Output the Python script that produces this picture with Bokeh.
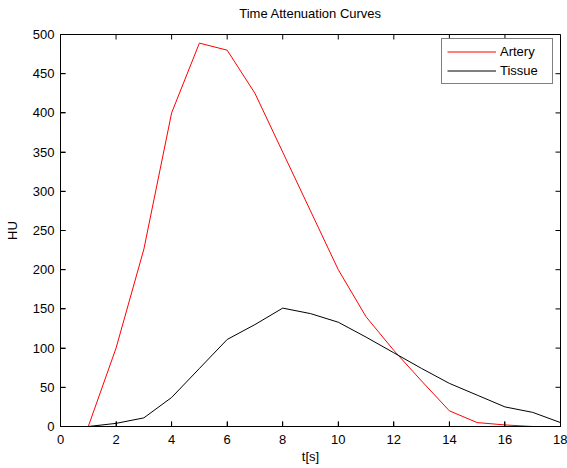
from bokeh.plotting import figure
from bokeh.models import LinearAxis, Range1d, FixedTicker, Legend, LegendItem
from bokeh.embed import file_html
from bokeh.resources import INLINE

t = list(range(1, 19))
artery = [0, 100, 226, 400, 489, 480, 425, 350, 275, 200, 140, 97, 58, 20, 5, 2, 0, 0]
tissue = [0, 4, 11, 37, 74, 111, 130, 151, 144, 133, 114, 94, 74, 55, 40, 25, 18, 5]
x_ticks = [0, 2, 4, 6, 8, 10, 12, 14, 16, 18]
y_ticks = [0, 50, 100, 150, 200, 250, 300, 350, 400, 450, 500]
title_text = "Time Attenuation Curves"

FONT = "Liberation Sans"
X0, X1, Y0, Y1 = 0, 18, 0, 500
FW, FH = 500, 392
TICK = 5

p = figure(width=567, height=468, output_backend="svg", toolbar_location=None,
           x_range=Range1d(X0, X1), y_range=Range1d(Y0, Y1),
           min_border_left=60, min_border_right=7, min_border_top=34, min_border_bottom=42)

p.grid.visible = False
p.outline_line_color = "black"
p.outline_line_width = 1
p.background_fill_color = "white"
p.border_fill_color = "white"

r1 = p.line(t, artery, line_color="#ff0000", line_width=1)
r2 = p.line(t, tissue, line_color="black", line_width=1)

# inward tick marks on all four sides
dx = TICK * (X1 - X0) / FW
dy = TICK * (Y1 - Y0) / FH
p.segment(x0=x_ticks, y0=[Y0] * len(x_ticks), x1=x_ticks, y1=[Y0 + dy] * len(x_ticks),
          line_color="black", line_width=1)
p.segment(x0=x_ticks, y0=[Y1] * len(x_ticks), x1=x_ticks, y1=[Y1 - dy] * len(x_ticks),
          line_color="black", line_width=1)
p.segment(x0=[X0] * len(y_ticks), y0=y_ticks, x1=[X0 + dx] * len(y_ticks), y1=y_ticks,
          line_color="black", line_width=1)
p.segment(x0=[X1] * len(y_ticks), y0=y_ticks, x1=[X1 - dx] * len(y_ticks), y1=y_ticks,
          line_color="black", line_width=1)

def style(ax):
    ax.major_tick_in = TICK
    ax.major_tick_out = 0
    ax.minor_tick_line_color = None
    ax.major_tick_line_color = "black"
    ax.axis_line_color = "black"
    ax.major_label_text_font = FONT
    ax.major_label_text_color = "black"
    ax.major_label_text_font_size = "13px"
    ax.axis_label_text_font = FONT
    ax.axis_label_text_font_size = "13px"
    ax.axis_label_text_font_style = "normal"
    ax.axis_label_text_color = "black"

p.xaxis.ticker = FixedTicker(ticks=x_ticks)
p.yaxis.ticker = FixedTicker(ticks=y_ticks)
style(p.xaxis[0])
style(p.yaxis[0])
p.xaxis.axis_label = "t[s]"
p.yaxis.axis_label = "HU"
p.xaxis.major_label_standoff = 8
p.xaxis.axis_label_standoff = 2
p.yaxis.major_label_standoff = 6
p.yaxis.axis_label_standoff = 10

# title drawn as the label of an empty top axis, centred on the frame
top = LinearAxis(ticker=FixedTicker(ticks=[]))
style(top)
top.axis_line_color = None
top.major_tick_line_color = None
top.major_label_standoff = 0
top.axis_label = title_text
top.axis_label_standoff = 14
p.add_layout(top, "above")

legend = Legend(items=[LegendItem(label="Artery", renderers=[r1]),
                       LegendItem(label="Tissue", renderers=[r2])],
                location=(381, 342))
legend.label_text_font = FONT
legend.label_text_font_size = "13px"
legend.label_text_color = "black"
legend.glyph_width = 49
legend.glyph_height = 15
legend.label_height = 15
legend.label_width = 47
legend.label_standoff = 4
legend.spacing = 4
legend.padding = 5
legend.margin = 0
legend.border_line_color = "black"
legend.border_line_width = 1
legend.background_fill_color = "white"
legend.background_fill_alpha = 1
p.add_layout(legend, "center")

open("out.html", "w").write(file_html(p, INLINE))
